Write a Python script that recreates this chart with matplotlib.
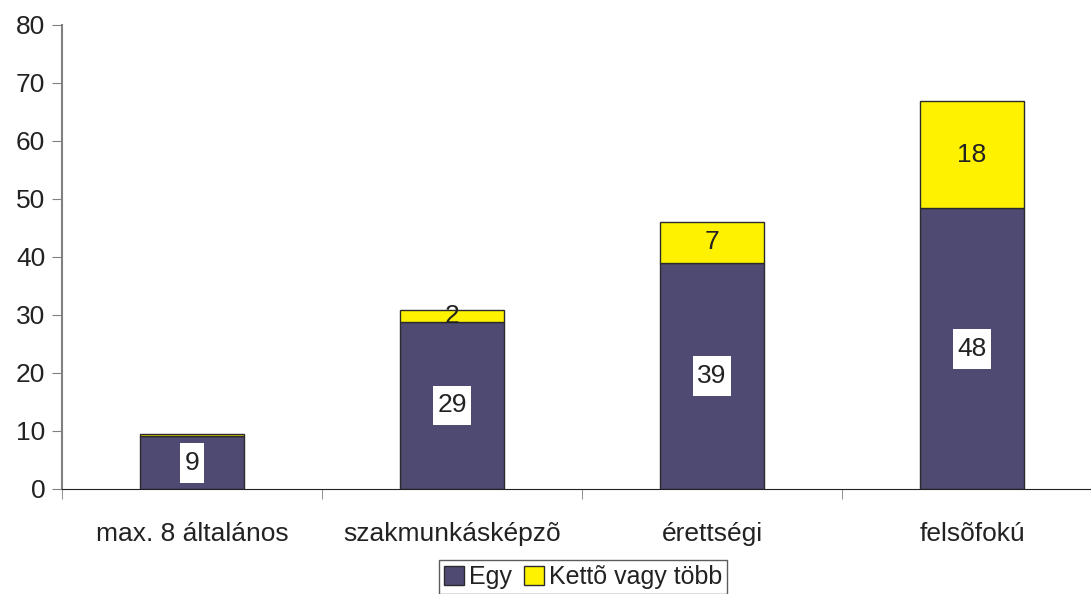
import numpy as np
import matplotlib.pyplot as plt
from matplotlib.path import Path

plt.rcParams['font.family'] = ['Liberation Sans', 'DejaVu Sans']

categories = ["max. 8 általános", "szakmunkásképzõ", "érettségi", "felsõfokú"]
egy = [9.1, 28.8, 39.0, 48.4]
ketto = [0.4, 2.1, 7.0, 18.5]
egy_labels = ["9", "29", "39", "48"]
ketto_labels = ["", "2", "7", "18"]


# white label box, taller than wide padding (like the excel one)
def tall_box(x0, y0, width, height, mutation_size):
    px = 0.17 * mutation_size
    py = 0.30 * mutation_size
    x0, y0 = x0 - px, y0 - py
    x1, y1 = x0 + width + 2 * px, y0 + height + 2 * py
    return Path([(x0, y0), (x1, y0), (x1, y1), (x0, y1), (x0, y0)], closed=True)


fig = plt.figure(figsize=(10.91, 5.94), dpi=100)
ax = fig.add_axes([62 / 1091, 105 / 594, 1040 / 1091, 464 / 594])

x = np.arange(len(categories))
b1 = ax.bar(x, egy, width=0.4, color="#4f4a72", edgecolor="#2b2b2b", linewidth=1, label="Egy")
b2 = ax.bar(x, ketto, width=0.4, bottom=egy, color="#fff200", edgecolor="#2b2b2b", linewidth=1,
            label="Kettõ vagy több")

ax.bar_label(b1, labels=egy_labels, label_type="center", fontsize=19, color="#222222",
             bbox=dict(boxstyle=tall_box, facecolor="white", edgecolor="none"))
ax.bar_label(b2, labels=ketto_labels, label_type="center", fontsize=19, color="#222222")

ax.set_xlim(-0.5, 3.5)
ax.set_ylim(0, 80)
ax.set_yticks(range(0, 81, 10))
ax.set_xticks(x)
ax.set_xticklabels(categories, fontsize=19, color="#222222")
ax.set_xticks(np.arange(-0.5, 4.0, 1.0), minor=True)
ax.tick_params(axis="x", which="major", length=0, pad=24)
ax.tick_params(axis="x", which="minor", length=7, color="#808080", direction="out")
ax.tick_params(axis="y", labelsize=19, labelcolor="#222222", length=7, color="#808080", pad=5)

for s in ["top", "right"]:
    ax.spines[s].set_visible(False)
ax.spines["left"].set_color("#808080")
ax.spines["left"].set_linewidth(1.5)
ax.spines["bottom"].set_color("#222222")

leg = fig.legend(loc="upper center", bbox_to_anchor=(583 / 1091, 34 / 594), ncol=2,
                 fontsize=18, frameon=True, fancybox=False, edgecolor="#333333",
                 handlelength=0.8, handleheight=0.8, handletextpad=0.2, columnspacing=0.5,
                 borderpad=0.2, borderaxespad=0, labelcolor="#222222")
leg.get_frame().set_linewidth(1)

fig.savefig("out.png", dpi=100)
